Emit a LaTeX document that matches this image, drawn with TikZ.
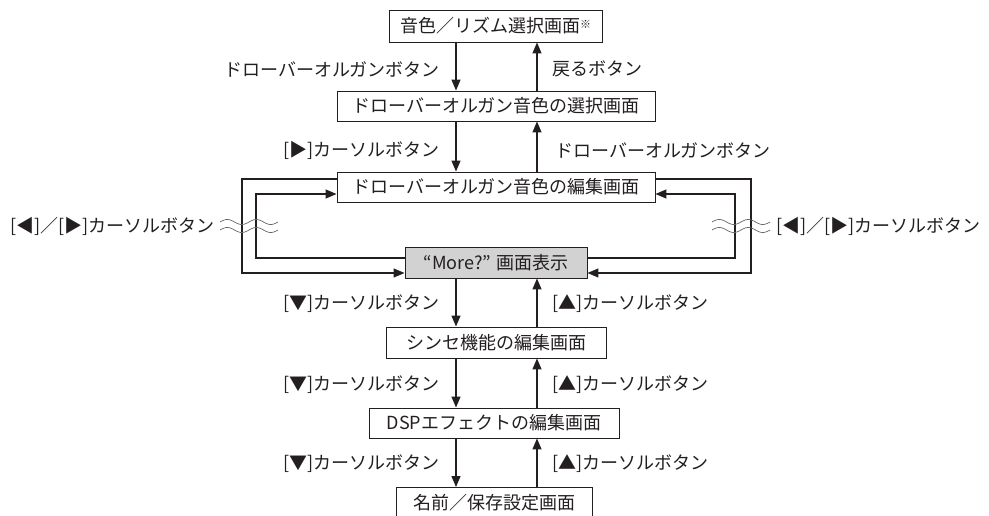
\documentclass[tikz,border=0pt]{standalone}
\usepackage{fontspec}
\newfontfamily\jp{Noto Sans CJK JP}
\usetikzlibrary{arrows.meta}
\definecolor{ink}{HTML}{231F20}
\definecolor{boxgray}{HTML}{D2D2D2}
\begin{document}
\begin{tikzpicture}[x=1pt,y=-1pt,
  box/.style={draw=ink, line width=0.9pt, fill=white, inner sep=0pt,
    font=\jp\fontsize{18}{20}\selectfont, text=ink},
  lbl/.style={inner sep=0pt, font=\jp\fontsize{18}{20}\selectfont, text=ink},
  arr/.style={line width=1.3pt, draw=ink, line join=miter,
    -{Triangle[length=11pt,width=9pt]}},
  wave/.style={draw=black!60, line width=0.7pt}]
\useasboundingbox (0,0) rectangle (989,516);
% boxes
\node[box, minimum width=213pt, minimum height=32pt] (b1) at (495.5,26)
  {音色／リズム選択画面\raisebox{4pt}{\fontsize{11}{11}\selectfont ※}};
\node[box, minimum width=318pt, minimum height=30pt] (b2) at (496,106)
  {ドローバーオルガン音色の選択画面};
\node[box, minimum width=318pt, minimum height=30pt] (b3) at (496,187)
  {ドローバーオルガン音色の編集画面};
\node[box, fill=boxgray, minimum width=182pt, minimum height=31pt] (b4) at (496,262.5)
  {“More?” 画面表示};
\node[box, minimum width=220pt, minimum height=31pt] (b5) at (496,342.5)
  {シンセ機能の編集画面};
\node[box, minimum width=250pt, minimum height=30pt] (b6) at (494,423)
  {DSPエフェクトの編集画面};
\node[box, minimum width=196pt, minimum height=30pt] (b7) at (494.5,502.5)
  {名前／保存設定画面};
% helper coordinates
\coordinate (xd) at (456,0);
\coordinate (xu) at (537,0);
\coordinate (lo) at (242,0);
\coordinate (li) at (256,0);
\coordinate (ro) at (751,0);
\coordinate (ri) at (735,0);
\coordinate (yA) at (0,179);
\coordinate (yB) at (0,194);
\coordinate (yC) at (0,258);
\coordinate (yD) at (0,273);
% vertical arrows
\draw[arr] (b1.south -| xd) -- (b2.north -| xd);
\draw[arr] (b2.north -| xu) -- (b1.south -| xu);
\draw[arr] (b2.south -| xd) -- (b3.north -| xd);
\draw[arr] (b3.north -| xu) -- (b2.south -| xu);
\draw[arr] (b4.south -| xd) -- (b5.north -| xd);
\draw[arr] (b5.north -| xu) -- (b4.south -| xu);
\draw[arr] (b5.south -| xd) -- (b6.north -| xd);
\draw[arr] (b6.north -| xu) -- (b5.south -| xu);
\draw[arr] (b6.south -| xd) -- (b7.north -| xd);
\draw[arr] (b7.north -| xu) -- (b6.south -| xu);
% loops
\draw[arr] (b3.west |- yA) -| (lo |- yD) -- (b4.west |- yD);
\draw[arr] (b4.west |- yC) -| (li |- yB) -- (b3.west |- yB);
\draw[arr] (b3.east |- yA) -| (ro |- yD) -- (b4.east |- yD);
\draw[arr] (b4.east |- yC) -| (ri |- yB) -- (b3.east |- yB);
% waves
\draw[wave] plot[domain=0:58, samples=80, smooth] ({220+\x},{222-2.5*sin(\x/29*360)});
\draw[wave] plot[domain=0:58, samples=80, smooth] ({220+\x},{230-2.5*sin(\x/29*360)});
\draw[wave] plot[domain=0:58, samples=80, smooth] ({712+\x},{222-2.5*sin(\x/29*360)});
\draw[wave] plot[domain=0:58, samples=80, smooth] ({712+\x},{230-2.5*sin(\x/29*360)});
% labels
\node[lbl, anchor=east] (l1) at (440,69) {ドローバーオルガンボタン};
\node[lbl, anchor=west] (r1) at (552,69) {戻るボタン};
\node[lbl, anchor=east] (l2) at (440,150) {[▶]カーソルボタン};
\node[lbl, anchor=west] (r2) at (555,150) {ドローバーオルガンボタン};
\node[lbl, anchor=east] (lc) at (215,226) {[◀]／[▶]カーソルボタン};
\node[lbl, anchor=west] (rc) at (776,226) {[◀]／[▶]カーソルボタン};
\node[lbl, anchor=east] (l3) at (440,304) {[▼]カーソルボタン};
\node[lbl, anchor=west] (r3) at (552,304) {[▲]カーソルボタン};
\node[lbl, anchor=east] (l4) at (440,385) {[▼]カーソルボタン};
\node[lbl, anchor=west] (r4) at (552,385) {[▲]カーソルボタン};
\node[lbl, anchor=east] (l5) at (440,464) {[▼]カーソルボタン};
\node[lbl, anchor=west] (r5) at (552,464) {[▲]カーソルボタン};
\end{tikzpicture}
\end{document}
